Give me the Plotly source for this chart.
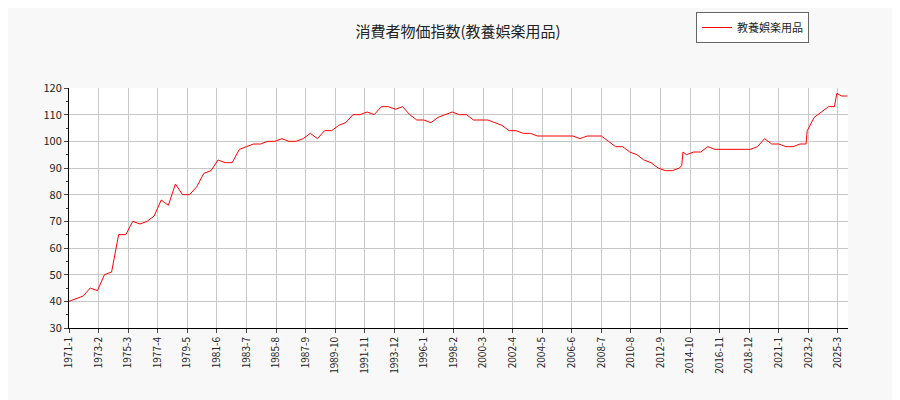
import plotly.graph_objects as go

# semiannual readings (plus a few extra where the line jumps)
dates = [
    "1971-01", "1971-07", "1972-01", "1972-07", "1973-01", "1973-07", "1974-01", "1974-07",
    "1975-01", "1975-07", "1976-01", "1976-07", "1977-01", "1977-07", "1978-01", "1978-07",
    "1979-01", "1979-07", "1980-01", "1980-07", "1981-01", "1981-07", "1982-01", "1982-07",
    "1983-01", "1983-07", "1984-01", "1984-07", "1985-01", "1985-07", "1986-01", "1986-07",
    "1987-01", "1987-07", "1988-01", "1988-07", "1989-01", "1989-07", "1990-01", "1990-07",
    "1991-01", "1991-07", "1992-01", "1992-07", "1993-01", "1993-07", "1994-01", "1994-07",
    "1995-01", "1995-07", "1996-01", "1996-07", "1997-01", "1997-07", "1998-01", "1998-07",
    "1999-01", "1999-07", "2000-01", "2000-07", "2001-01", "2001-07", "2002-01", "2002-07",
    "2003-01", "2003-07", "2004-01", "2004-07", "2005-01", "2005-07", "2006-01", "2006-07",
    "2007-01", "2007-07", "2008-01", "2008-07", "2009-01", "2009-07", "2010-01", "2010-07",
    "2011-01", "2011-07", "2012-01", "2012-07", "2013-01", "2013-07", "2014-01", "2014-03",
    "2014-04", "2014-07", "2015-01", "2015-07", "2016-01", "2016-07", "2017-01", "2017-07",
    "2018-01", "2018-07", "2019-01", "2019-07", "2020-01", "2020-07", "2021-01", "2021-07",
    "2022-01", "2022-07", "2022-12", "2023-01", "2023-07", "2024-01", "2024-07", "2024-12",
    "2025-02", "2025-06", "2025-11",
]
values = [
    40, 41, 42, 45, 44, 50, 51, 65,
    65, 70, 69, 70, 72, 78, 76, 84,
    80, 80, 83, 88, 89, 93, 92, 92,
    97, 98, 99, 99, 100, 100, 101, 100,
    100, 101, 103, 101, 104, 104, 106, 107,
    110, 110, 111, 110, 113, 113, 112, 113,
    110, 108, 108, 107, 109, 110, 111, 110,
    110, 108, 108, 108, 107, 106, 104, 104,
    103, 103, 102, 102, 102, 102, 102, 102,
    101, 102, 102, 102, 100, 98, 98, 96,
    95, 93, 92, 90, 89, 89, 90, 91,
    96, 95, 96, 96, 98, 97, 97, 97,
    97, 97, 97, 98, 101, 99, 99, 98,
    98, 99, 99, 104, 109, 111, 113, 113,
    118, 117, 117,
]

tick_vals = [f"{1971 + (25 * i) // 12}-{(25 * i) % 12 + 1:02d}" for i in range(27)]
tick_text = [f"{int(t[:4])}-{int(t[5:])}" for t in tick_vals]

fig = go.Figure(go.Scatter(
    x=dates, y=values, mode="lines", name="教養娯楽用品",
    line=dict(color="red", width=1),
))

fig.update_layout(
    width=900, height=400,
    paper_bgcolor="#f8f8f8", plot_bgcolor="white",
    font=dict(family="Noto Sans CJK JP, DejaVu Sans", size=11, color="#222"),
    title=dict(text="消費者物価指数(教養娯楽用品)", x=0.5, xanchor="center",
               yref="container", y=0.955, font=dict(size=15)),
    margin=dict(l=61, r=60, t=80, b=80, autoexpand=False),
    showlegend=True,
    legend=dict(x=0.95, xanchor="right", yref="container", y=0.99, yanchor="top",
                bgcolor="white", bordercolor="#666", borderwidth=1,
                font=dict(size=11)),
)
fig.update_xaxes(
    type="date", range=["1971-01-01", "2025-11-15"],
    tickvals=tick_vals, ticktext=tick_text, tickangle=-90,
    showgrid=True, gridcolor="#c8c8c8", ticks="outside", ticklen=4,
    showline=True, linecolor="black", tickfont=dict(size=10),
)
fig.update_yaxes(
    range=[30, 120], dtick=10, showgrid=True, gridcolor="#c8c8c8",
    ticks="outside", ticklen=4, showline=True, linecolor="black",
    minor=dict(dtick=5, ticks="outside", ticklen=2, showgrid=False),
)

fig.write_html("out.html")
